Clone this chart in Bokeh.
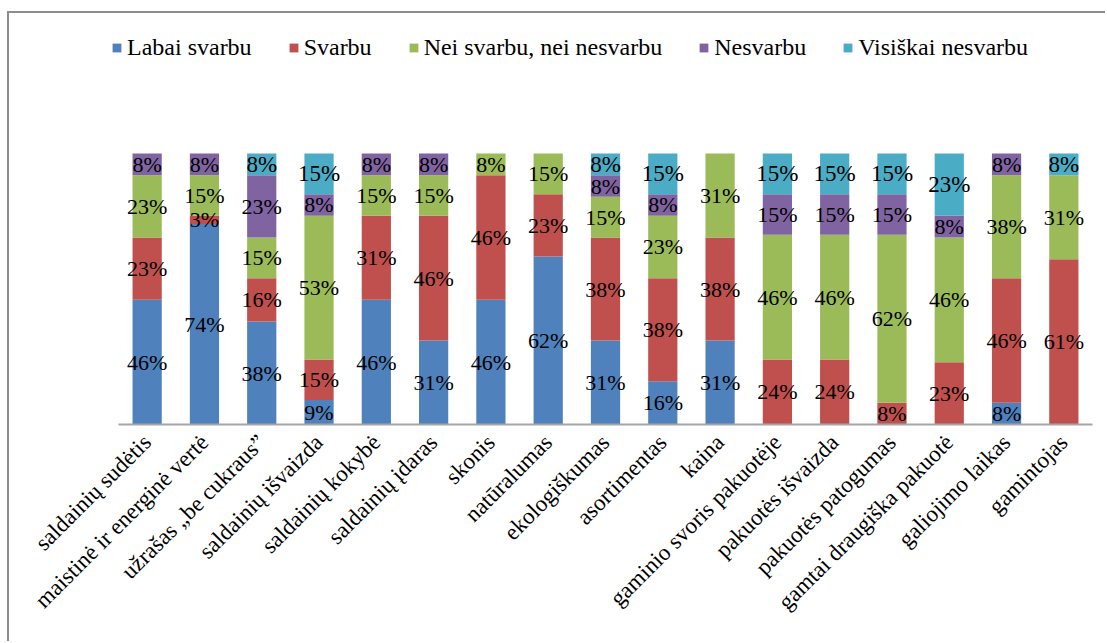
import math

from bokeh.embed import file_html
from bokeh.models import (ColumnDataSource, FactorRange, LabelSet, Legend,
                          LegendItem, Range1d)
from bokeh.plotting import figure
from bokeh.resources import INLINE

# Survey: importance of candy attributes (% of respondents)
categories = [
    "saldainių sudėtis",
    "maistinė ir energinė vertė",
    "užrašas „be cukraus”",
    "saldainių išvaizda",
    "saldainių kokybė",
    "saldainių įdaras",
    "skonis",
    "natūralumas",
    "ekologiškumas",
    "asortimentas",
    "kaina",
    "gaminio svoris pakuotėje",
    "pakuotės išvaizda",
    "pakuotės patogumas",
    "gamtai draugiška pakuotė",
    "galiojimo laikas",
    "gamintojas",
]

series_names = ["Labai svarbu", "Svarbu", "Nei svarbu, nei nesvarbu",
                "Nesvarbu", "Visiškai nesvarbu"]

labai_svarbu = [46, 74, 38, 9, 46, 31, 46, 62, 31, 16, 31, 0, 0, 0, 0, 8, 0]
svarbu = [23, 3, 16, 15, 31, 46, 46, 23, 38, 38, 38, 24, 24, 8, 23, 46, 61]
nei_nei = [23, 15, 15, 53, 15, 15, 8, 15, 15, 23, 31, 46, 46, 62, 46, 38, 31]
nesvarbu = [8, 8, 23, 8, 8, 8, 0, 0, 8, 8, 0, 15, 15, 15, 8, 8, 0]
visiskai_nesvarbu = [0, 0, 8, 15, 0, 0, 0, 0, 8, 15, 0, 15, 15, 15, 23, 0, 8]

colors = ["#4F81BD", "#C0504D", "#9BBB59", "#8064A2", "#4BACC6"]

series = [labai_svarbu, svarbu, nei_nei, nesvarbu, visiskai_nesvarbu]
keys = ["s0", "s1", "s2", "s3", "s4"]

# Page geometry (px). The figure sits inside a chart-area border drawn with
# CSS on its top/left edges.
OX, OY = 9, 13                  # page offset of the canvas (margin + 2px border)
W, H = 1107 - OX, 643 - OY
CAT_LEFT, CAT_RIGHT = 118, 1092  # extent of the category slots
PAD = 14                         # extra frame room on each side (for the legend)
FRAME_LEFT, FRAME_RIGHT = CAT_LEFT - PAD - OX, CAT_RIGHT + PAD - OX
ZERO_ROW, PCT_ROW = 424, 153     # rows of the 0 % and 100 % levels
FRAME_TOP, FRAME_BOTTOM = 20 - OY, ZERO_ROW + 3 - OY
px_per_unit = (ZERO_ROW - PCT_ROW) / 100
y_min = -3 / px_per_unit
y_max = 100 + (PCT_ROW - 20) / px_per_unit

x_pad = (FRAME_RIGHT - FRAME_LEFT) / (CAT_RIGHT - CAT_LEFT) - 1

p = figure(
    width=W, height=H,
    x_range=FactorRange(*categories, range_padding=x_pad),
    y_range=Range1d(y_min, y_max),
    output_backend="svg", toolbar_location=None, title=None,
    min_border_left=FRAME_LEFT, min_border_right=W - FRAME_RIGHT,
    min_border_top=FRAME_TOP, min_border_bottom=H - FRAME_BOTTOM,
    background_fill_color="white", border_fill_color="white",
)
p.margin = (OY - 2, 0, 0, OX - 2)
p.styles = {"border-top": "2px solid #8C8C8C", "border-left": "2px solid #8C8C8C"}
p.outline_line_color = None
p.xgrid.grid_line_color = None
p.ygrid.grid_line_color = None
p.yaxis.visible = False

source = ColumnDataSource(dict(cat=categories, **{k: v for k, v in zip(keys, series)}))
renderers = p.vbar_stack(keys, x="cat", width=0.51, color=colors, line_color=None,
                         source=source)

# Category baseline spanning exactly the category slots
p.segment(x0=[(categories[0], -0.5)], x1=[(categories[-1], 0.5)], y0=[0], y1=[0],
          line_color="#A6A6A6", line_width=2)

# Value labels centred in each segment
serif_rows = dict(cat=[], y=[], txt=[])
sans_rows = dict(cat=[], y=[], txt=[])
for i, cat in enumerate(categories):
    base = 0
    for j, vals in enumerate(series):
        v = vals[i]
        if v > 0:
            rows = sans_rows if j == 4 else serif_rows
            rows["cat"].append(cat)
            rows["y"].append(base + v / 2)
            rows["txt"].append(f"{v}%")
        base += v

p.add_layout(LabelSet(x="cat", y="y", text="txt", source=ColumnDataSource(serif_rows),
                      text_align="center", text_baseline="middle",
                      text_font="Liberation Serif", text_font_size="22px",
                      text_color="black"))
p.add_layout(LabelSet(x="cat", y="y", text="txt", source=ColumnDataSource(sans_rows),
                      text_align="center", text_baseline="middle",
                      text_font="Lato", text_font_size="23px",
                      text_color="black"))

ax = p.xaxis[0]
ax.axis_line_color = None
ax.major_tick_line_color = None
ax.minor_tick_line_color = None
ax.major_label_orientation = math.pi / 4
ax.major_label_text_font = "Liberation Serif"
ax.major_label_text_font_size = "23px"
ax.major_label_text_color = "black"
ax.major_label_standoff = 5

legend = Legend(
    items=[LegendItem(label=n, renderers=[r]) for n, r in zip(series_names, renderers)],
    orientation="horizontal",
    location=(111 - (CAT_LEFT - PAD), 366),
    glyph_width=11, glyph_height=11, label_standoff=5, spacing=36,
    padding=0, margin=0,
    border_line_color=None, background_fill_alpha=0,
    label_text_font="Liberation Serif", label_text_font_size="24px",
    label_text_color="black",
)
p.add_layout(legend, "center")

open("out.html", "w").write(file_html(p, INLINE))
